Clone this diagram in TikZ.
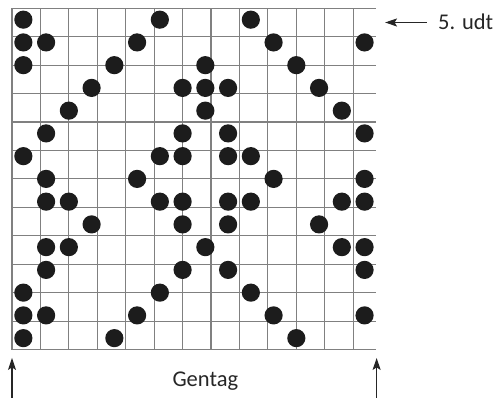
\documentclass[tikz,border=0pt]{standalone}
\usepackage{fontspec}
\setmainfont{Carlito}
\usetikzlibrary{arrows.meta, positioning}
\definecolor{cGrid}{RGB}{128,128,128}
\definecolor{cDot}{RGB}{28,28,28}
\tikzset{
	gridline/.style={draw=cGrid, line width=1.1pt},
	pind/.style={fill=cDot},
	tekst/.style={font=\fontsize{22.5}{26}\selectfont, inner sep=0pt, text=black!85},
	pil/.style={-{Stealth[length=12pt, width=8pt, inset=2.5pt]}, line width=1.1pt, draw=black!85},
}
\begin{document}
\begin{tikzpicture}[x=0.8cm, y=0.8cm]
	\useasboundingbox (-0.527,-2.13) rectangle (21.41,15.365);
	% 16 x 15 grid
	\draw[gridline] (0,0) grid (16,15);
	% dots, row by row from the top
	\foreach \r/\cols in {1/{1,7,11}, 2/{1,2,6,12,16}, 3/{1,5,9,13}, 4/{4,8,9,10,14},
		5/{3,9,15}, 6/{2,8,10,16}, 7/{1,7,8,10,11}, 8/{2,6,12,16},
		9/{2,3,7,8,10,11,15,16}, 10/{4,8,10,14}, 11/{2,3,9,15,16}, 12/{2,8,10,16},
		13/{1,7,11}, 14/{1,2,6,12,16}, 15/{1,5,13}}
		\foreach \c in \cols
			\fill[pind] (\c-0.5, 15.5-\r) circle (0.4);
	% labels
	\node[tekst, anchor=west] (udt) at (18.73,14.4) {5. udt};
	\coordinate (udtstart) at (18.24,14.376);
	\coordinate (udtpil) at (16.4,14.376);
	\draw[pil] (udtstart) -- (udtpil);
	\node[tekst] (gentag) at (8.5,-1.38) {Gentag};
	\coordinate (venstre) at (0,-2.13);
	\coordinate (hoejre) at (16.03,-2.13);
	\draw[pil] (venstre) -- ++(0,1.76);
	\draw[pil] (hoejre) -- ++(0,1.76);
\end{tikzpicture}
\end{document}
